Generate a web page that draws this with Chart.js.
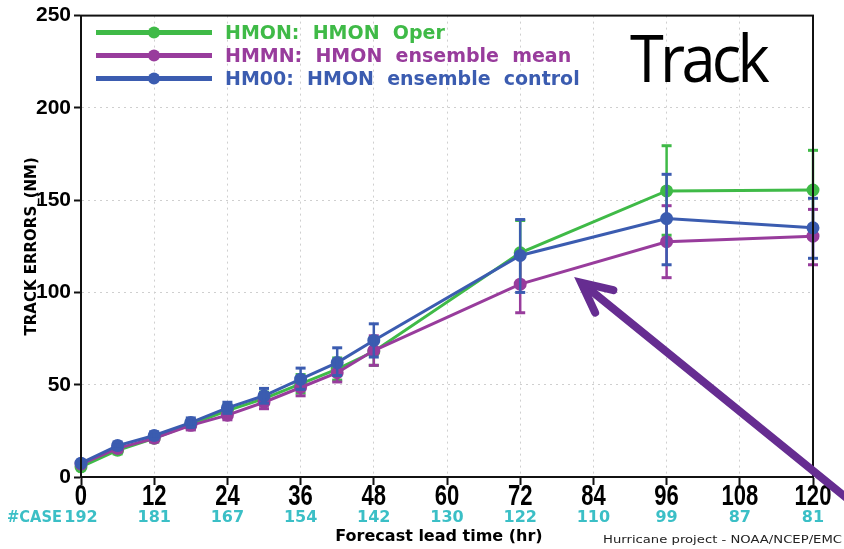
<!DOCTYPE html>
<html>
<head>
<meta charset="utf-8">
<title>HMON track errors</title>
<script src="https://cdn.jsdelivr.net/npm/chart.js@4.4.1/dist/chart.umd.min.js"></script>
<style>
  html, body { margin: 0; padding: 0; background: #ffffff; }
  canvas { display: block; }
</style>
</head>
<body>
<canvas id="chart" width="844" height="549"></canvas>
<script>
// Forecast lead times (hr) and verification sample sizes
const hours = [0, 6, 12, 18, 24, 30, 36, 42, 48, 72, 96, 120];
const xTicks = [0, 12, 24, 36, 48, 60, 72, 84, 96, 108, 120];
const caseCounts = [192, 181, 167, 154, 142, 130, 122, 110, 99, 87, 81];
const yTicks = [0, 50, 100, 150, 200, 250];

// Series labels
const labelOper = 'HMON:  HMON  Oper';
const labelMean = 'HMMN:  HMON  ensemble  mean';
const labelCtrl = 'HM00:  HMON  ensemble  control';

// Mean track errors (NM) with confidence-interval ends
const operErr   = [5.5, 14.5, 21, 28.5, 36, 42.5, 50.5, 58.5, 68, 121.5, 155, 155.5];
const operLo    = [4, 12.5, 19, 26, 33, 39, 45.5, 52.5, 60.5, 104, 131, 134.5];
const operHi    = [7, 16.5, 23, 31, 39, 46, 55.5, 64.5, 75.5, 139, 179.5, 177];

const meanErr   = [7, 15.5, 21, 28, 33.5, 40.5, 48.5, 56.5, 68.5, 104.5, 127.5, 130.5];
const meanLo    = [5.5, 13.5, 19, 25.5, 31, 37, 44, 51.5, 60.5, 89, 108, 115];
const meanHi    = [8.5, 17.5, 23, 30.5, 36.5, 44, 53.5, 62, 76.5, 120, 147, 145];

const ctrlErr   = [7.5, 17, 22.5, 29.5, 37.5, 44, 53, 62, 74, 120, 140, 135];
const ctrlLo    = [6, 15, 20.5, 27, 34.5, 40, 47.5, 55, 65, 100, 115, 118.5];
const ctrlHi    = [9, 19, 24.5, 32, 40.5, 48, 59, 70, 83, 139.5, 164, 151];

// Arrow annotation (data coordinates: hour, NM)
const arrowTip = { x: 82, y: 105.3 };
const arrowTail = { x: 126.5, y: -14 };

const GREEN = '#3fba47';
const PURPLE = '#983c9c';
const BLUE = '#3b5cb0';
const CYAN = '#3bbfc6';
const ARROW = '#662d91';
const FONT = '"DejaVu Sans", "Liberation Sans", sans-serif';
const HELV = '"Liberation Sans", Arial, sans-serif';

function toPoints(vals) {
  return hours.map((h, i) => ({ x: h, y: vals[i] }));
}

function makeSet(label, vals, lo, hi, color, order) {
  return {
    label: label,
    data: toPoints(vals),
    errLo: lo,
    errHi: hi,
    borderColor: color,
    backgroundColor: color,
    pointBackgroundColor: color,
    pointBorderColor: color,
    borderWidth: 3,
    pointRadius: 5,
    pointHoverRadius: 5,
    tension: 0,
    clip: false,
    order: order
  };
}

function strokeLine(ctx, x1, y1, x2, y2) {
  ctx.beginPath();
  ctx.moveTo(x1, y1);
  ctx.lineTo(x2, y2);
  ctx.stroke();
}

// Text squeezed or stretched horizontally to a given width
function fitText(ctx, text, x, y, width) {
  const w = ctx.measureText(text).width;
  ctx.save();
  ctx.translate(x, y);
  ctx.scale(width / w, 1);
  ctx.fillText(text, 0, 0);
  ctx.restore();
}

const decorations = {
  id: 'decorations',
  afterDatasetDraw(chart, args) {
    // vertical error bars with caps for each series
    const ds = chart.data.datasets[args.index];
    const xs = chart.scales.x, ys = chart.scales.y;
    const ctx = chart.ctx;
    ctx.save();
    ctx.strokeStyle = ds.borderColor;
    ds.errLo.forEach((lo, i) => {
      const px = xs.getPixelForValue(hours[i]);
      const y1 = ys.getPixelForValue(lo);
      const y2 = ys.getPixelForValue(ds.errHi[i]);
      ctx.lineWidth = 2.5;
      strokeLine(ctx, px, y1, px, y2);
      ctx.lineWidth = 3;
      strokeLine(ctx, px - 5, y1, px + 5, y1);
      strokeLine(ctx, px - 5, y2, px + 5, y2);
    });
    ctx.restore();
  },
  afterDatasetsDraw(chart) {
    // frame around the plotting area
    const { ctx, chartArea: a } = chart;
    ctx.save();
    ctx.strokeStyle = '#111';
    ctx.lineWidth = 2;
    ctx.strokeRect(a.left, a.top, a.right - a.left, a.bottom - a.top);
    ctx.restore();
  },
  afterDraw(chart) {
    const { ctx, chartArea: a } = chart;
    const xs = chart.scales.x, ys = chart.scales.y;
    ctx.save();

    // legend: line with a dot, then the coloured label
    const legendSets = [2, 1, 0].map(i => chart.data.datasets[i]);
    legendSets.forEach((ds, k) => {
      const yy = a.top + 17 + k * 23;
      const x1 = a.left + 15, x2 = a.left + 131;
      ctx.strokeStyle = ds.borderColor;
      ctx.lineWidth = 5;
      ctx.lineCap = 'butt';
      strokeLine(ctx, x1, yy, x2, yy);
      ctx.fillStyle = ds.borderColor;
      ctx.beginPath();
      ctx.arc((x1 + x2) / 2, yy, 6, 0, Math.PI * 2);
      ctx.fill();
      ctx.font = 'bold 19px ' + FONT;
      ctx.textAlign = 'left';
      ctx.textBaseline = 'middle';
      ctx.fillText(ds.label, a.left + 144, yy + 1);
    });

    // hour labels along the x axis (tall, narrow digits)
    ctx.fillStyle = '#000';
    ctx.font = 'bold 29px ' + HELV;
    ctx.textAlign = 'left';
    ctx.textBaseline = 'middle';
    xTicks.forEach(h => {
      const s = String(h);
      const w = ctx.measureText(s).width * 0.76;
      fitText(ctx, s, xs.getPixelForValue(h) - w / 2, 497, w);
    });

    // case counts under the hour labels
    ctx.fillStyle = CYAN;
    ctx.font = 'bold 16px ' + FONT;
    ctx.textBaseline = 'middle';
    ctx.textAlign = 'center';
    xTicks.forEach((h, i) => {
      ctx.fillText(String(caseCounts[i]), xs.getPixelForValue(h), 518);
    });
    ctx.textAlign = 'left';
    fitText(ctx, '#CASE', 7, 518, 55);

    // x-axis title
    ctx.fillStyle = '#000';
    ctx.font = 'bold 16px ' + FONT;
    ctx.textAlign = 'center';
    ctx.fillText('Forecast lead time (hr)', 439, 537);

    // credit line
    ctx.fillStyle = '#222';
    ctx.font = '11px ' + FONT;
    ctx.textAlign = 'left';
    fitText(ctx, 'Hurricane project - NOAA/NCEP/EMC', 603, 540, 239);

    // panel heading
    ctx.fillStyle = '#000';
    ctx.font = '400 66px "Open Sans", "Lato", sans-serif';
    ctx.textAlign = 'left';
    ctx.textBaseline = 'alphabetic';
    ctx.letterSpacing = '-4px';
    fitText(ctx, 'Track', 630, 82, 136);
    ctx.letterSpacing = '0px';

    // arrow pointing at the ensemble-mean curve
    const tx = xs.getPixelForValue(arrowTip.x), ty = ys.getPixelForValue(arrowTip.y);
    const ex = xs.getPixelForValue(arrowTail.x), ey = ys.getPixelForValue(arrowTail.y);
    const ang = Math.atan2(ey - ty, ex - tx);
    const spread = 26 * Math.PI / 180, len = 33;
    ctx.strokeStyle = ARROW;
    ctx.lineWidth = 8;
    ctx.lineCap = 'round';
    ctx.lineJoin = 'miter';
    strokeLine(ctx, tx + 4 * Math.cos(ang), ty + 4 * Math.sin(ang), ex, ey);
    ctx.beginPath();
    ctx.moveTo(tx + len * Math.cos(ang - spread), ty + len * Math.sin(ang - spread));
    ctx.lineTo(tx, ty);
    ctx.lineTo(tx + len * Math.cos(ang + spread), ty + len * Math.sin(ang + spread));
    ctx.stroke();

    ctx.restore();
  }
};

new Chart(document.getElementById('chart'), {
  type: 'line',
  data: {
    datasets: [
      makeSet(labelCtrl, ctrlErr, ctrlLo, ctrlHi, BLUE, 0),
      makeSet(labelMean, meanErr, meanLo, meanHi, PURPLE, 1),
      makeSet(labelOper, operErr, operLo, operHi, GREEN, 2)
    ]
  },
  options: {
    responsive: false,
    devicePixelRatio: 1,
    animation: false,
    layout: { padding: { left: 0, right: 31, top: 15, bottom: 0 } },
    plugins: {
      legend: { display: false },
      tooltip: { enabled: false }
    },
    scales: {
      x: {
        type: 'linear',
        min: 0,
        max: 120,
        afterBuildTicks: s => { s.ticks = xTicks.map(v => ({ value: v })); },
        afterFit: s => { s.height = 72; },
        ticks: { display: false },
        grid: { color: '#cfcfcf', lineWidth: 1, tickLength: 8, tickColor: '#111', tickWidth: 2 },
        border: { color: '#111', width: 2, dash: [2, 4] }
      },
      y: {
        min: 0,
        max: 250,
        afterBuildTicks: s => { s.ticks = yTicks.map(v => ({ value: v })); },
        afterFit: s => { s.width = 81; },
        ticks: {
          color: '#000',
          padding: 3,
          font: { family: HELV, size: 21, weight: 'bold' }
        },
        title: {
          display: true,
          text: 'TRACK ERRORS_(NM)',
          color: '#000',
          padding: { top: 23, bottom: 0 },
          font: { family: FONT, size: 15, weight: 'bold' }
        },
        grid: { color: '#cfcfcf', lineWidth: 1, tickLength: 7, tickColor: '#111', tickWidth: 2 },
        border: { color: '#111', width: 2, dash: [2, 4] }
      }
    }
  },
  plugins: [decorations]
});
</script>
</body>
</html>
